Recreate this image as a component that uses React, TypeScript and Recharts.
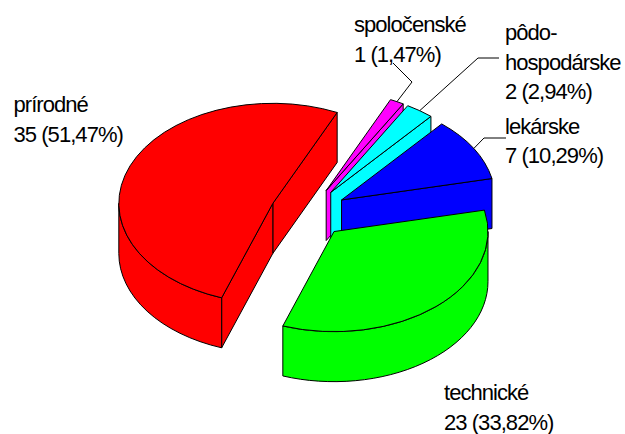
import { Pie, PieChart } from "recharts";

// categories, in clockwise drawing order so that the front slices paint last
const categories = ["spoločenské", "pôdohospodárske", "lekárske", "technické", "prírodné"];
const counts = [1, 2, 7, 23, 35];
const percentLabels = ["1 (1,47%)", "2 (2,94%)", "7 (10,29%)", "23 (33,82%)", "35 (51,47%)"];
const colors = ["#ff00ff", "#00ffff", "#0000ff", "#00ff00", "#ff0000"];

const data = categories.map((name, i) => ({ name, value: counts[i] }));

// fake 3D settings
const TILT = 0.65;
const DEPTH = 50;
const EXPLODE = 0.25;
const FIRST_ANGLE = 425.3;

// where the label text sits, and the elbows of the leader lines
const labelLayout = [
  { x: 354, y: 32, lines: ["spoločenské", percentLabels[0]], leader: [[412, 82], [393, 63]] },
  { x: 505, y: 40, lines: ["pôdo-", "hospodárske", percentLabels[1]], leader: [[478, 58], [499, 58]] },
  { x: 505, y: 133.5, lines: ["lekárske", percentLabels[2]], leader: [[484, 138], [506, 138]] },
  { x: 444, y: 400, lines: ["technické", percentLabels[3]], leader: [] },
  { x: 13.5, y: 112, lines: ["prírodné", percentLabels[4]], leader: [] },
];

const rad = (deg: number) => (deg * Math.PI) / 180;

// centre of a slice after it is pulled out of the pie
const sliceCentre = (cx: number, cy: number, r: number, mid: number) => ({
  x: cx + EXPLODE * r * Math.cos(rad(mid)),
  y: cy - EXPLODE * r * TILT * Math.sin(rad(mid)),
});

const Slice3D = (props: any) => {
  const { cx, cy, outerRadius: r, startAngle, endAngle, fill } = props;
  const lo = Math.min(startAngle, endAngle);
  const hi = Math.max(startAngle, endAngle);
  const c = sliceCentre(cx, cy, r, (lo + hi) / 2);
  const ry = r * TILT;
  const rim = (deg: number) => ({
    x: c.x + r * Math.cos(rad(deg)),
    y: c.y - ry * Math.sin(rad(deg)),
  });
  const a = rim(lo);
  const b = rim(hi);
  const large = hi - lo > 180 ? 1 : 0;
  const top = `M${c.x},${c.y} L${a.x},${a.y} A${r},${ry} 0 ${large} 0 ${b.x},${b.y} Z`;
  const cutFace = (p: { x: number; y: number }) =>
    `M${c.x},${c.y} L${p.x},${p.y} L${p.x},${p.y + DEPTH} L${c.x},${c.y + DEPTH} Z`;

  const from = Math.max(lo, 180);
  const to = Math.min(hi, 360);
  let wall = "";
  if (from < to) {
    const f = rim(from);
    const t = rim(to);
    wall =
      `M${f.x},${f.y} A${r},${ry} 0 0 0 ${t.x},${t.y} L${t.x},${t.y + DEPTH} ` +
      `A${r},${ry} 0 0 1 ${f.x},${f.y + DEPTH} Z`;
  }

  return (
    <g fill={fill} stroke="#000" strokeWidth={1} strokeLinejoin="round">
      {Math.cos(rad(lo)) > 0 && <path d={cutFace(a)} />}
      {Math.cos(rad(hi)) < 0 && <path d={cutFace(b)} />}
      {wall && <path d={wall} />}
      <path d={top} />
    </g>
  );
};

const SliceLabel = (props: any) => {
  const { index, cx, cy, outerRadius: r, midAngle } = props;
  const layout = labelLayout[index];
  const c = sliceCentre(cx, cy, r, midAngle);
  const start = [c.x + r * Math.cos(rad(midAngle)), c.y - r * TILT * Math.sin(rad(midAngle))];
  const points = [start, ...layout.leader].map((p) => p.join(",")).join(" ");
  return (
    <g>
      {layout.leader.length > 0 && <polyline points={points} fill="none" stroke="#000" strokeWidth={1} />}
      {layout.lines.map((line, i) => (
        <text
          key={line}
          x={layout.x}
          y={layout.y + i * 29.5}
          fontFamily="Liberation Sans"
          fontSize={22}
          letterSpacing={-0.95}
          fill="#000"
        >
          {line}
        </text>
      ))}
    </g>
  );
};

export default function App() {
  return (
    <div style={{ position: "absolute", left: 0, top: 0, width: 625, height: 434, background: "#fff" }}>
      <PieChart width={625} height={434} margin={{ top: 0, right: 0, bottom: 0, left: 0 }}>
        <Pie
          data={data.map((d, i) => ({ ...d, fill: colors[i] }))}
          dataKey="value"
          nameKey="name"
          cx={308.5}
          cy={212.8}
          outerRadius={154}
          startAngle={FIRST_ANGLE}
          endAngle={FIRST_ANGLE - 360}
          shape={Slice3D}
          label={SliceLabel}
          labelLine={false}
          rootTabIndex={-1}
          isAnimationActive={false}
        />
      </PieChart>
    </div>
  );
}
